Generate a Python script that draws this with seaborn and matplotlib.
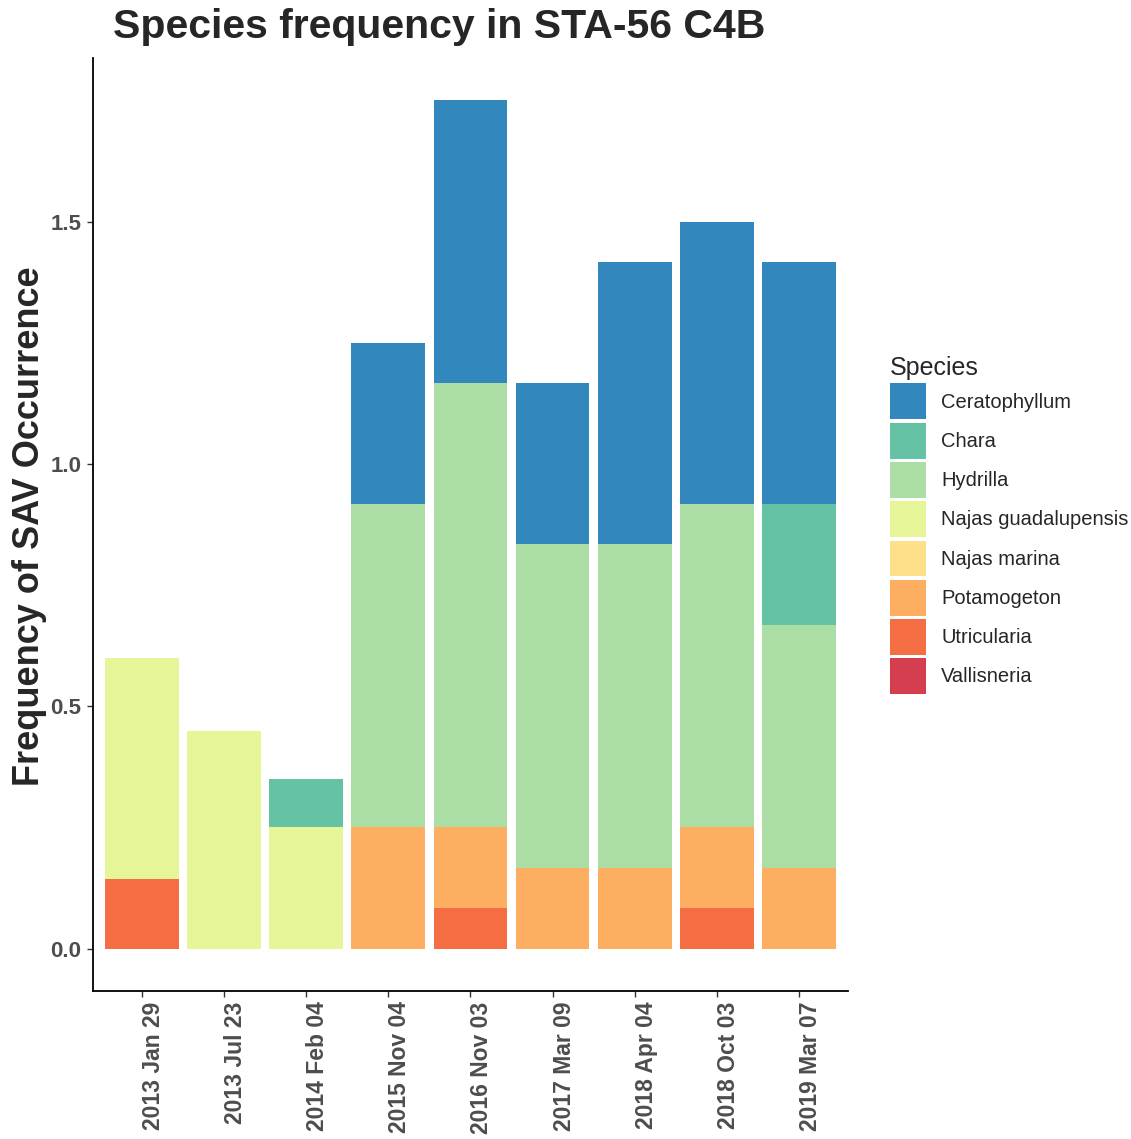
import numpy as np
import pandas as pd
import seaborn as sns
import matplotlib.pyplot as plt
from matplotlib.patches import Patch

# survey dates (x categories)
dates = ["2013 Jan 29", "2013 Jul 23", "2014 Feb 04", "2015 Nov 04",
         "2016 Nov 03", "2017 Mar 09", "2018 Apr 04", "2018 Oct 03",
         "2019 Mar 07"]

# frequency of occurrence per species, one value per date
ceratophyllum = [0, 0, 0, 0.333, 0.583, 0.333, 0.583, 0.583, 0.5]
chara = [0, 0, 0.1, 0, 0, 0, 0, 0, 0.25]
hydrilla = [0, 0, 0, 0.667, 0.917, 0.667, 0.667, 0.667, 0.5]
najas_guad = [0.457, 0.45, 0.25, 0, 0, 0, 0, 0, 0]
najas_marina = [0, 0, 0, 0, 0, 0, 0, 0, 0]
potamogeton = [0, 0, 0, 0.25, 0.167, 0.167, 0.167, 0.167, 0.167]
utricularia = [0.143, 0, 0, 0, 0.083, 0, 0, 0.083, 0]
vallisneria = [0, 0, 0, 0, 0, 0, 0, 0, 0]

species = ["Ceratophyllum", "Chara", "Hydrilla", "Najas guadalupensis",
           "Najas marina", "Potamogeton", "Utricularia", "Vallisneria"]
colors = ["#3288BD", "#66C2A5", "#ABDDA4", "#E6F598",
          "#FEE08B", "#FDAE61", "#F46D43", "#D53E4F"]

df = pd.DataFrame({
    "Ceratophyllum": ceratophyllum,
    "Chara": chara,
    "Hydrilla": hydrilla,
    "Najas guadalupensis": najas_guad,
    "Najas marina": najas_marina,
    "Potamogeton": potamogeton,
    "Utricularia": utricularia,
    "Vallisneria": vallisneria,
}, index=dates)

sns.set_theme(style="ticks")
plt.rcParams['font.family'] = ['Liberation Sans', 'DejaVu Sans']

fig = plt.figure(figsize=(11.31, 11.39), dpi=100)
ax = fig.add_axes([0.0822, 0.1299, 0.6676, 0.8191])

# stack: last species at the bottom, so cumulate in reverse order
cum = df[species[::-1]].cumsum(axis=1)
for sp, col in zip(species, colors):
    sns.barplot(x=dates, y=cum[sp].values, order=dates, color=col,
                saturation=1, width=0.9, linewidth=0, errorbar=None, ax=ax)

ax.set_xlim(-0.6, 8.6)
ax.set_ylim(-0.0875, 1.8375)
ax.set_yticks([0, 0.5, 1.0, 1.5])
ax.set_yticklabels(["0.0", "0.5", "1.0", "1.5"])
ax.set_xlabel("")
ax.set_ylabel("")

for side in ["top", "right"]:
    ax.spines[side].set_visible(False)
for side in ["left", "bottom"]:
    ax.spines[side].set_color("black")
    ax.spines[side].set_linewidth(1.3)

ax.tick_params(axis="y", labelsize=16, colors="#333333", labelcolor="#4D4D4D",
               length=4.5, width=1, pad=4)
ax.tick_params(axis="x", labelsize=16.5, colors="#333333", labelcolor="#4D4D4D",
               length=4.5, width=1, pad=3)
for lab in ax.get_yticklabels():
    lab.set_fontweight("bold")
for lab in ax.get_xticklabels():
    lab.set_fontweight("bold")
    lab.set_rotation(90)
    lab.set_ha("left")

fig.text(0.1, 0.9666, "Species frequency in STA-56 C4B", fontsize=29.5,
         fontweight="bold", ha="left", va="baseline")
fig.text(0.026, 0.538, "Frequency of SAV Occurrence", fontsize=26,
         fontweight="bold", rotation=90, ha="center", va="center")

handles = [Patch(facecolor=c, edgecolor="none") for c in colors]
fig.legend(handles, species, title="Species", loc="center left",
           bbox_to_anchor=(0.7777, 0.539), frameon=False, fontsize=14.5,
           title_fontsize=18, handlelength=1.8, handleheight=2.36,
           labelspacing=0.17, handletextpad=0.75, borderpad=0,
           alignment="left")

fig.savefig("out.png", dpi=100)
